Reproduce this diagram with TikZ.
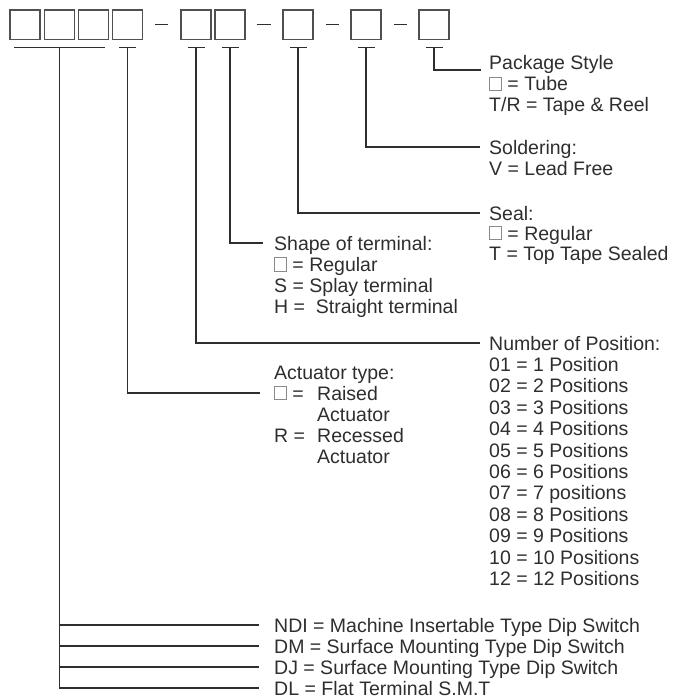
\documentclass[tikz,border=0pt]{standalone}
\usepackage{fontspec}
\setmainfont{Liberation Sans}
\definecolor{inkA}{HTML}{2E2E2E}
\definecolor{inkB}{HTML}{505050}
\definecolor{inkC}{HTML}{8A8A8A}
\newcommand{\sqbox}{\tikz[baseline=0pt]\draw[inkC,line width=0.7pt] (0.35pt,0.35pt) rectangle (12.5pt,14pt);}

\begin{document}
\begin{tikzpicture}[x=1pt,y=-1pt,
  part/.style={draw=inkB,line width=1.4pt,minimum width=30pt,minimum height=29.5pt,inner sep=0pt},
  lead/.style={draw=inkA,line width=1.1pt},
  lbl/.style={anchor=west,inner sep=0pt,text height=14pt,text depth=0pt,text=inkA,font=\fontsize{19.5}{21}\selectfont}]
\useasboundingbox (0,0) rectangle (683,698);
\node[part] (b1) at (25,24.75) {};
\node[part] (b2) at (59.2,24.75) {};
\node[part] (b3) at (93.4,24.75) {};
\node[part] (b4) at (127.7,24.75) {};
\node[part] (b5) at (196,24.75) {};
\node[part] (b6) at (230,24.75) {};
\node[part] (b7) at (298,24.75) {};
\node[part] (b8) at (366,24.75) {};
\node[part] (b9) at (434,24.75) {};
\draw[lead] ([xshift=11.5pt]b4.east) -- ([xshift=-12pt]b5.west);
\draw[lead] ([xshift=11pt]b6.east) -- ([xshift=-11pt]b7.west);
\draw[lead] ([xshift=12pt]b7.east) -- ([xshift=-11pt]b8.west);
\draw[lead] ([xshift=12pt]b8.east) -- ([xshift=-11pt]b9.west);
\coordinate (t0) at ([yshift=-7.5pt]b2.south);
\draw[lead] ([xshift=5pt,yshift=-7.5pt]b1.south west) -- ([xshift=-4pt,yshift=-7.5pt]b3.south east);
\foreach \i in {4,...,9} {
  \coordinate (t\i) at ([yshift=-7.5pt]b\i.south);
  \draw[lead] ([xshift=-8.5pt]t\i) -- ([xshift=8.5pt]t\i);
}
\foreach \txt [count=\k from 0] in {Package Style, \sqbox{} = Tube, T/R = Tape \& Reel}
  \node[lbl] (pkg\k) at (489,63+21*\k) {\txt};
\foreach \txt [count=\k from 0] in {Soldering:, V = Lead Free}
  \node[lbl] (sld\k) at (489,147+21*\k) {\txt};
\foreach \txt [count=\k from 0] in {Seal:, \sqbox{} = Regular, T = Top Tape Sealed}
  \node[lbl] (seal\k) at (489,213+20*\k) {\txt};
\foreach \txt [count=\k from 0] in {Shape of terminal:, \sqbox{} = Regular, S = Splay terminal, H = \ Straight terminal}
  \node[lbl] (shp\k) at (274,243+21.3*\k) {\txt};
\foreach \txt [count=\k from 0] in {Number of Position:, 01 = 1 Position, 02 = 2 Positions, 03 = 3 Positions, 04 = 4 Positions, 05 = 5 Positions, 06 = 6 Positions, 07 = 7 positions, 08 = 8 Positions, 09 = 9 Positions, 10 = 10 Positions, 12 = 12 Positions}
  \node[lbl] (pos\k) at (489,343+21.4*\k) {\txt};
\foreach \txt [count=\k from 0] in {Actuator type:, \makebox[43pt][l]{\sqbox{} =}Raised, \hspace*{43pt}Actuator, \makebox[43pt][l]{R =}Recessed, \hspace*{43pt}Actuator}
  \node[lbl] (act\k) at (274,372+21*\k) {\txt};
\node[lbl] (ndi) at (274,625) {NDI = Machine Insertable Type Dip Switch};
\node[lbl] (dm) at (274,646) {DM = Surface Mounting Type Dip Switch};
\node[lbl] (dj) at (274,667) {DJ = Surface Mounting Type Dip Switch};
\node[lbl] (dl) at (274,688) {DL = Flat Terminal S.M.T};
\draw[lead,shorten >=8pt] (t9) |- (pkg0.base west);
\draw[lead,shorten >=9pt] (t8) |- (sld0.west);
\draw[lead,shorten >=9pt] (t7) |- (seal0.west);
\draw[lead,shorten >=11pt] (t6) |- (shp0.west);
\draw[lead,shorten >=9pt] (t5) |- (pos0.west);
\draw[lead,shorten >=14pt] (t4) |- (act1.west);
\draw[lead,shorten >=15pt] (t0) |- (ndi.west);
\draw[lead,shorten >=15pt] (t0) |- (dm.west);
\draw[lead,shorten >=15pt] (t0) |- (dj.west);
\draw[lead,shorten >=15pt] (t0) |- (dl.west);
\end{tikzpicture}
\end{document}
